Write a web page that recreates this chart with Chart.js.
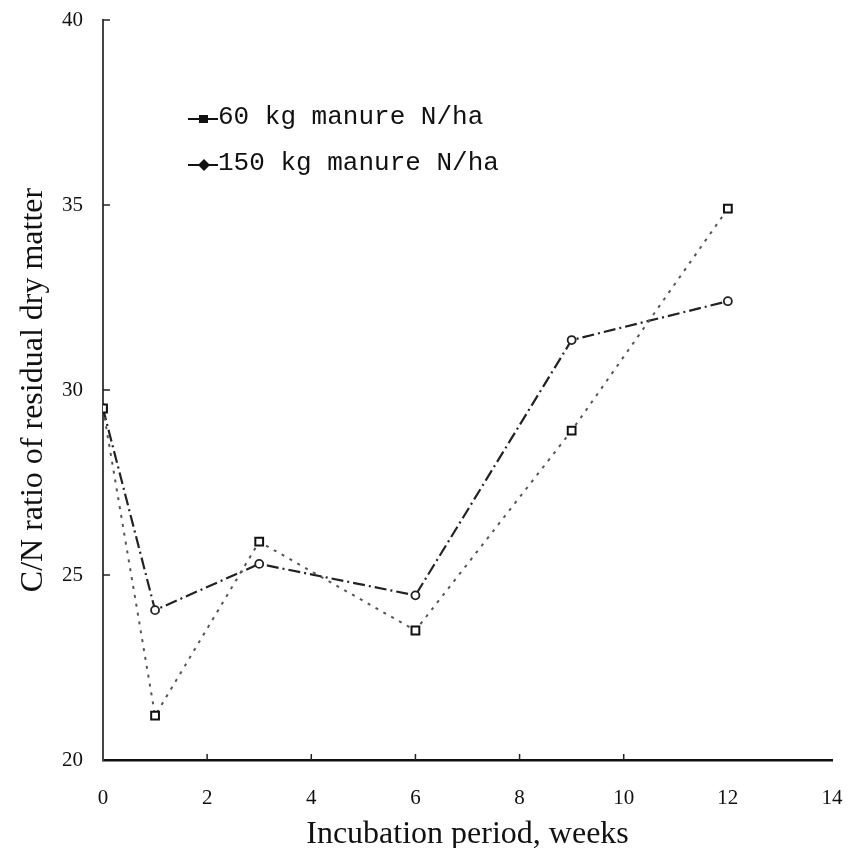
<!DOCTYPE html>
<html>
<head>
<meta charset="utf-8">
<script src="https://cdn.jsdelivr.net/npm/chart.js@4.4.1/dist/chart.umd.min.js"></script>
<style>
  html, body { margin: 0; padding: 0; background: #fff; }
  #wrap { width: 857px; height: 848px; position: relative; }
</style>
</head>
<body>
<div id="wrap"><canvas id="c" width="857" height="848"></canvas></div>
<script>
// ---- data ----
const weeks = [0, 1, 3, 6, 9, 12];
const cn60 = [29.5, 21.2, 25.9, 23.5, 28.9, 34.9];
const cn150 = [29.5, 24.05, 25.3, 24.45, 31.35, 32.4];
const seriesLabels = ['60 kg manure N/ha', '150 kg manure N/ha'];
const xTitle = 'Incubation period, weeks';
const yTitle = 'C/N ratio of residual dry matter';

const toPts = (xs, ys) => xs.map((x, i) => ({ x: x, y: ys[i] }));

// inward tick marks drawn through the scales
const innerTicks = {
  id: 'innerTicks',
  afterDraw(chart) {
    const { ctx, scales: { x, y } } = chart;
    ctx.save();
    ctx.strokeStyle = '#222';
    ctx.lineWidth = 1.5;
    [25, 30, 35, 40].forEach(v => {
      const py = y.getPixelForValue(v);
      ctx.beginPath();
      ctx.moveTo(x.left, py);
      ctx.lineTo(x.left + 7, py);
      ctx.stroke();
    });
    [2, 4, 6, 8, 10].forEach(v => {
      const px = x.getPixelForValue(v);
      ctx.beginPath();
      ctx.moveTo(px, y.bottom);
      ctx.lineTo(px, y.bottom - 6);
      ctx.stroke();
    });
    ctx.restore();
  }
};

// legend drawn inside the plot area
const insideLegend = {
  id: 'insideLegend',
  afterDraw(chart) {
    const { ctx } = chart;
    const rows = [{ y: 117, ds: 0 }, { y: 163, ds: 1 }];
    ctx.save();
    ctx.font = '26px "Liberation Mono", "DejaVu Sans Mono", monospace';
    ctx.textBaseline = 'middle';
    rows.forEach(r => {
      const ds = chart.data.datasets[r.ds];
      ctx.strokeStyle = '#111';
      ctx.lineWidth = 2;
      ctx.beginPath();
      ctx.moveTo(188, r.y + 2);
      ctx.lineTo(218, r.y + 2);
      ctx.stroke();
      ctx.fillStyle = '#111';
      ctx.beginPath();
      if (r.ds === 0) {
        ctx.rect(199, r.y - 2, 9, 8);
      } else {
        ctx.moveTo(204, r.y - 4);
        ctx.lineTo(210, r.y + 2);
        ctx.lineTo(204, r.y + 8);
        ctx.lineTo(198, r.y + 2);
        ctx.closePath();
      }
      ctx.fill();
      ctx.fillText(ds.label, 218, r.y);
    });
    ctx.restore();
  }
};

new Chart(document.getElementById('c'), {
  type: 'line',
  data: {
    datasets: [
      {
        label: seriesLabels[0],
        data: toPts(weeks, cn60),
        borderColor: '#555',
        borderWidth: 2,
        borderDash: [3, 6],
        pointStyle: 'rect',
        pointRadius: 5.5,
        pointBorderWidth: 2,
        pointBorderColor: '#111',
        pointBackgroundColor: '#fff',
        fill: false,
        tension: 0
      },
      {
        label: seriesLabels[1],
        data: toPts(weeks, cn150),
        borderColor: '#222',
        borderWidth: 2.2,
        borderDash: [12, 4, 2, 4],
        pointStyle: 'circle',
        pointRadius: 4,
        pointBorderWidth: 1.8,
        pointBorderColor: '#222',
        pointBackgroundColor: '#fff',
        fill: false,
        tension: 0
      }
    ]
  },
  options: {
    responsive: false,
    animation: false,
    layout: { padding: { top: 20, right: 25, left: 0, bottom: 0 } },
    plugins: { legend: { display: false }, tooltip: { enabled: false } },
    scales: {
      x: {
        type: 'linear',
        min: 0, max: 14,
        afterFit: s => { s.height = 88; s.paddingLeft = 0; s.paddingRight = 0; },
        ticks: {
          stepSize: 2,
          color: '#111',
          padding: 26,
          font: { family: '"Liberation Serif", "DejaVu Serif", serif', size: 21 }
        },
        grid: { display: false, drawTicks: false },
        border: { display: true, color: '#111', width: 2.5 },
        title: {
          display: true,
          text: xTitle,
          color: '#111',
          padding: { top: 0, bottom: -6 },
          font: { family: '"Liberation Serif", "DejaVu Serif", serif', size: 32 }
        }
      },
      y: {
        min: 20, max: 40,
        afterFit: s => { s.width = 103; s.paddingTop = 0; s.paddingBottom = 0; },
        ticks: {
          stepSize: 5,
          color: '#111',
          padding: 20,
          font: { family: '"Liberation Serif", "DejaVu Serif", serif', size: 21 }
        },
        grid: { display: false, drawTicks: false },
        border: { display: true, color: '#444', width: 2, dash: [2, 5] },
        title: {
          display: true,
          text: yTitle,
          color: '#111',
          padding: { bottom: 0, top: 14 },
          font: { family: '"Liberation Serif", "DejaVu Serif", serif', size: 32 }
        }
      }
    }
  },
  plugins: [innerTicks, insideLegend]
});
</script>
</body>
</html>
